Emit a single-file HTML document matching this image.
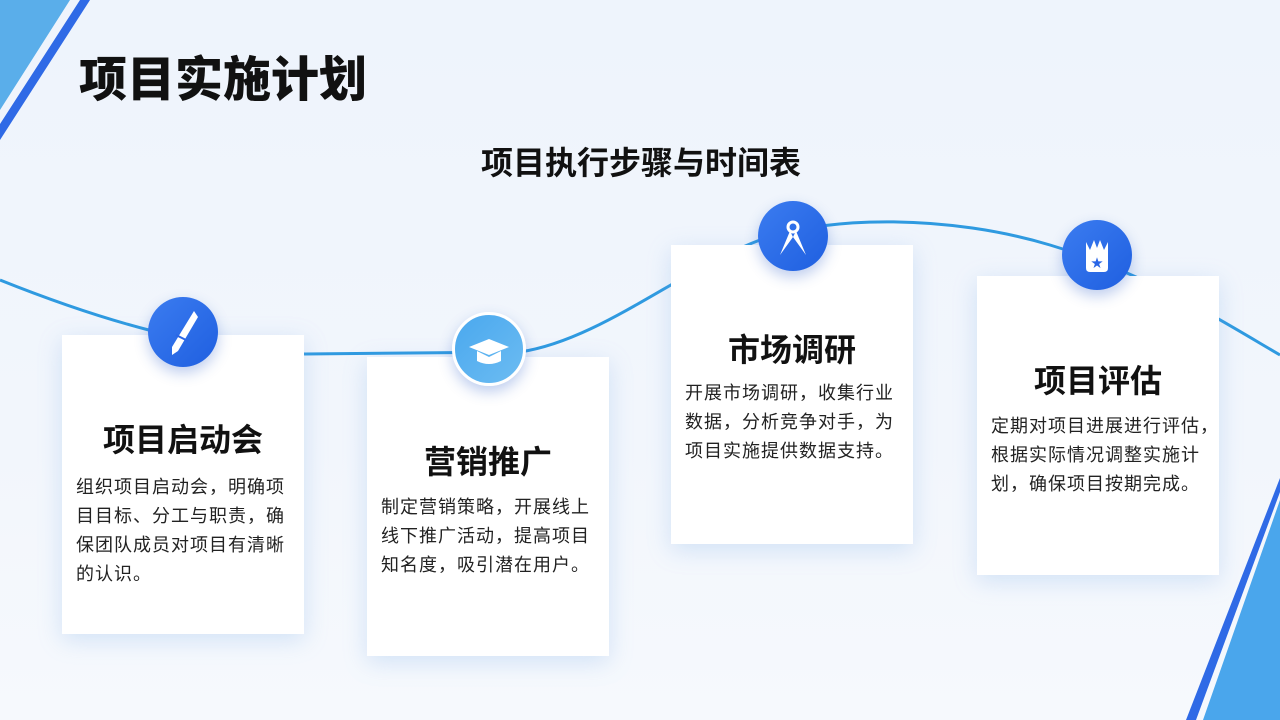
<!DOCTYPE html>
<html><head><meta charset="utf-8"><style>
body{margin:0;width:1280px;height:720px;overflow:hidden;position:relative;background:linear-gradient(180deg,#eef4fc 0%,#f2f6fc 60%,#f6f9fd 100%);font-family:"Liberation Sans","Noto Sans CJK SC",sans-serif;}
.card{position:absolute;background:#fff;width:242px;height:299px;box-shadow:0 6px 22px rgba(120,170,230,.28);}
.card h3{margin:0;position:absolute;left:0;right:0;text-align:center;font-size:32px;font-weight:bold;color:#111;}
.card p{margin:0;position:absolute;left:14px;white-space:nowrap;font-size:18px;letter-spacing:1px;line-height:29px;color:#222;}
.ic{position:absolute;width:70px;height:70px;border-radius:50%;background:linear-gradient(135deg,#3b7cf0,#1f5fe0);box-shadow:0 6px 14px rgba(40,90,200,.3);}
svg{position:absolute;left:0;top:0}
</style></head><body>
<svg width="1280" height="720">
<polygon points="0,0 70,0 0,110" fill="#5aaeea"/>
<polygon points="80,0 90,0 0,140 0,124" fill="#2f6ae6"/>
<polygon points="1280,500 1280,720 1203,720" fill="#4aa6ec"/>
<polygon points="1280,478 1280,492 1196,720 1186,720" fill="#2f6ae6"/>
<path d="M0,280 C100,320 200,350 305,354 L520,352 C600,340 680,270 760,240 C830,215 950,215 1050,245 C1150,275 1220,320 1280,355" fill="none" stroke="#2f9ae0" stroke-width="3"/>
</svg>
<div style="position:absolute;left:79px;top:40px;font-size:48px;font-weight:900;color:#111;">项目实施计划</div>
<div style="position:absolute;left:0;width:1282px;top:138px;text-align:center;font-size:32px;font-weight:bold;color:#111;">项目执行步骤与时间表</div>

<div class="card" style="left:62px;top:335px"><h3 style="top:80px">项目启动会</h3><p style="top:138px">组织项目启动会，明确项<br>目目标、分工与职责，确<br>保团队成员对项目有清晰<br>的认识。</p></div>
<div class="card" style="left:367px;top:357px"><h3 style="top:80px">营销推广</h3><p style="top:136px">制定营销策略，开展线上<br>线下推广活动，提高项目<br>知名度，吸引潜在用户。</p></div>
<div class="card" style="left:671px;top:245px"><h3 style="top:80px">市场调研</h3><p style="top:134px">开展市场调研，收集行业<br>数据，分析竞争对手，为<br>项目实施提供数据支持。</p></div>
<div class="card" style="left:977px;top:276px"><h3 style="top:80px">项目评估</h3><p style="top:136px">定期对项目进展进行评估，<br>根据实际情况调整实施计<br>划，确保项目按期完成。</p></div>

<div class="ic" style="left:148px;top:297px"><svg width="70" height="70"><path d="M46,14 L50,20 L30,54 L24,58 L24,50 Z" fill="#fff"/><path d="M28,38 L40,44" stroke="#2a66e6" stroke-width="2"/></svg></div>
<div class="ic" style="left:452px;top:312px;width:68px;height:68px;border:3px solid #fff;background:linear-gradient(135deg,#4aa8ee,#6cbcf2)"><svg width="68" height="68"><polygon points="34,24 54,32 34,40 14,32" fill="#fff"/><path d="M22,36 L22,46 Q34,52 46,46 L46,36 L34,42 Z" fill="#fff"/></svg></div>
<div class="ic" style="left:758px;top:201px"><svg width="70" height="70"><circle cx="35" cy="26" r="5" fill="none" stroke="#fff" stroke-width="3"/><path d="M32,30 L22,54 L35,36 Z M38,30 L48,54 L35,36 Z" fill="#fff"/></svg></div>
<div class="ic" style="left:1062px;top:220px"><svg width="70" height="70"><path d="M24,22 L28,30 L32,20 L35,28 L38,20 L42,30 L46,22 L46,48 Q46,52 42,52 L28,52 Q24,52 24,48 Z" fill="#fff"/><text x="35" y="47" text-anchor="middle" font-size="12" fill="#2a66e6">★</text></svg></div>
</body></html>
